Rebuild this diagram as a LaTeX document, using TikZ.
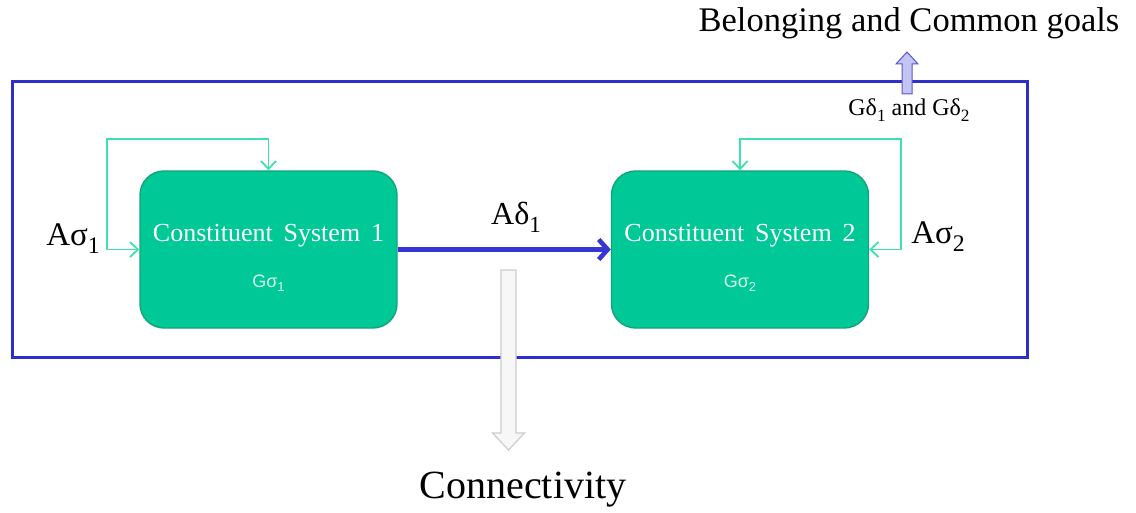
\documentclass[tikz,border=0pt]{standalone}
\usepackage{fontspec}
\setmainfont{Liberation Serif}
\setsansfont{Liberation Sans}
\usetikzlibrary{arrows.meta}

\definecolor{frameblue}{HTML}{2E2EC8}
\definecolor{linkblue}{HTML}{3636D2}
\definecolor{csfill}{HTML}{00C896}
\definecolor{csedge}{HTML}{14A47A}
\definecolor{loopgreen}{HTML}{3EE0B2}
\definecolor{subwhite}{HTML}{D8F7EC}
\definecolor{hollowgray}{HTML}{CDCDCD}
\definecolor{lavender}{HTML}{C4C4F2}

% subscript a little larger than \textsubscript
\newcommand{\bigsub}[1]{\raisebox{-0.24em}{\fontsize{0.72\dimexpr\csname f@size\endcsname pt\relax}{1em}\selectfont #1}}

\tikzset{
  frame/.style={draw=frameblue, line width=3pt},
  csbox/.style={draw=csedge, fill=csfill, line width=1.4pt, rounded corners=24pt,
    minimum width=257pt, minimum height=157pt},
  cstitle/.style={text=white, font=\fontsize{26}{28}\selectfont},
  csgoal/.style={text=subwhite, font=\sffamily\fontsize{18}{20}\selectfont},
  feedback/.style={draw=loopgreen, line width=1.8pt,
    {Straight Barb[length=8pt,width=15pt]}-{Straight Barb[length=8pt,width=15pt]}},
  link/.style={draw=linkblue, line width=4.6pt, -{Straight Barb[length=9pt,width=20pt]}},
  lbl/.style={text=black, inner sep=0pt},
}

\begin{document}
\begin{tikzpicture}[x=1pt, y=-1pt]
  \path[use as bounding box] (0,0) rectangle (1136,513);

  % system boundary
  \draw[frame] (12,82) rectangle (1027,357);

  % constituent systems
  \node[csbox] (cs1) at (268.5,249.5) {};
  \node[csbox] (cs2) at (740,249.5) {};
  \node[cstitle] (cs1t) at (268.5,236) {Constituent\, System\, 1};
  \node[csgoal]  (cs1g) at (268.5,283) {Gσ\bigsub{1}};
  \node[cstitle] (cs2t) at (740,236) {Constituent\, System\, 2};
  \node[csgoal]  (cs2g) at (740,283) {Gσ\bigsub{2}};

  % self feedback loops
  \draw[feedback] (cs1.west) -- ++(-32,0) |- ([yshift=31pt]cs1.north) -- (cs1.north);
  \draw[feedback] (cs2.east) -- ++(32,0) |- ([yshift=31pt]cs2.north) -- (cs2.north);

  % interaction between the systems
  \draw[link] (cs1.east) -- (cs2.west);

  % emergent connectivity (hollow arrow)
  \draw[draw=hollowgray, fill=black!3, line width=1.2pt, line join=miter]
    (501,270) -- (516,270) -- (516,433) -- (524.5,433) -- (508.5,450)
    -- (492.5,433) -- (501,433) -- cycle;

  % emergent goals (small block arrow)
  \draw[draw=frameblue!80, fill=lavender, line width=1pt]
    (902,94) -- (912,94) -- (912,64) -- (918,64) -- (907,52)
    -- (896,64) -- (902,64) -- cycle;

  % labels
  \node[lbl, font=\fontsize{33}{36}\selectfont] (asig1) at (73,239) {Aσ\bigsub{1}};
  \node[lbl, font=\fontsize{33}{36}\selectfont] (asig2) at (938,237) {Aσ\bigsub{2}};
  \node[lbl, font=\fontsize{32}{36}\selectfont] (adel1) at (516,217) {Aδ\bigsub{1}};
  \node[lbl, font=\fontsize{24}{28}\selectfont] (gdel) at (909,110) {Gδ\bigsub{1} and Gδ\bigsub{2}};
  \node[lbl, font=\fontsize{34.5}{40}\selectfont] (belong) at (909,23) {Belonging and Common goals};
  \node[lbl, font=\fontsize{40}{44}\selectfont] (connect) at (523,490) {Connectivity};
\end{tikzpicture}
\end{document}
